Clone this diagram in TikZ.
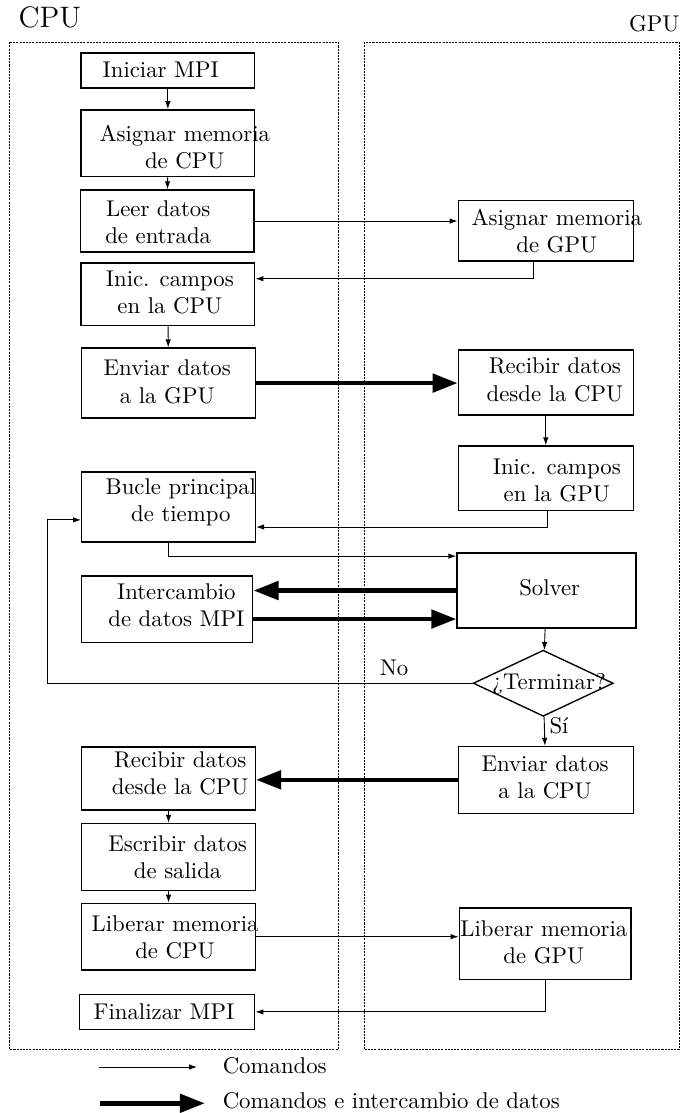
\documentclass[tikz,border=0pt]{standalone}
\usepackage{tikz}
\usetikzlibrary{arrows.meta,shapes.geometric}

\begin{document}
\begin{tikzpicture}[
    box/.style={draw, line width=0.6pt, minimum width=2.68cm, inner sep=0pt},
    txt/.style={align=center, inner sep=0pt},
    frame/.style={line width=0.5pt, dash pattern=on 0.9pt off 0.5pt},
    cmd/.style={line width=0.4pt, -{Latex[length=3.5pt,width=2.4pt]}},
    dat/.style={line width=2pt, -{Triangle[length=11pt,width=8pt]}}]
    \useasboundingbox (0,0) rectangle (10.54,-17.17);

    % the two frames
    \draw[frame] (0.15,-0.65) rectangle (5.22,-16.19);
    \draw[frame] (5.62,-0.65) rectangle (10.48,-16.19);
    \node[anchor=base west, inner sep=0pt, font=\fontsize{13}{16}\selectfont] (cpuT) at (0.28,-0.43) {CPU};
    \node[anchor=base east, inner sep=0pt] (gpuT) at (10.49,-0.49) {GPU};

    % CPU side boxes
    \node[box, minimum height=0.54cm] (iniM)  at (2.59,-1.09)  {};
    \node[box, minimum height=1.03cm] (asigC) at (2.59,-2.21)  {};
    \node[box, minimum height=0.96cm] (leer)  at (2.58,-3.41)  {};
    \node[box, minimum height=0.97cm] (iniC)  at (2.59,-4.54)  {};
    \node[box, minimum height=1.08cm] (envG)  at (2.60,-5.91)  {};
    \node[box, minimum height=1.08cm] (bucle) at (2.60,-7.82)  {};
    \node[box, minimum height=1.03cm, minimum width=2.64cm] (inter) at (2.58,-9.40) {};
    \node[box, minimum height=0.97cm] (recC)  at (2.60,-12.01) {};
    \node[box, minimum height=1.03cm] (escr)  at (2.60,-13.22) {};
    \node[box, minimum height=1.03cm] (libC)  at (2.60,-14.45) {};
    \node[box, minimum height=0.54cm, minimum width=2.70cm] (fin) at (2.58,-15.61) {};

    % GPU side boxes
    \node[box, minimum height=0.93cm, minimum width=2.70cm] (asigG) at (8.42,-3.56) {};
    \node[box, minimum height=1.00cm, minimum width=2.70cm] (recG)  at (8.42,-5.90) {};
    \node[box, minimum height=1.00cm, minimum width=2.70cm] (iniG)  at (8.42,-7.38) {};
    \node[box, minimum height=1.16cm, minimum width=2.76cm] (solver) at (8.43,-9.11) {};
    \node[draw, diamond, line width=0.6pt, inner sep=0pt,
          minimum width=2.16cm, minimum height=1.02cm] (term) at (8.38,-10.54) {};
    \node[box, minimum height=1.03cm, minimum width=2.70cm] (envC)  at (8.42,-12.03) {};
    \node[box, minimum height=1.10cm, minimum width=2.65cm] (libG)  at (8.41,-14.56) {};

    % box texts
    \node[txt] (iniMt)  at (2.48,-1.08)  {Iniciar MPI};
    \node[txt] (asigCt) at (2.85,-2.27)  {Asignar memoria\\de CPU};
    \node[txt] (leert)  at (2.44,-3.43)  {Leer datos\\de entrada};
    \node[txt] (iniCt)  at (2.62,-4.51)  {Inic. campos\\en la CPU};
    \node[txt] (envGt)  at (2.58,-5.89)  {Enviar datos\\a la GPU};
    \node[txt] (buclet) at (2.79,-7.75)  {Bucle principal\\de tiempo};
    \node[txt] (intert) at (2.72,-9.34)  {Intercambio\\de datos MPI};
    \node[txt] (recCt)  at (2.78,-11.93) {Recibir datos\\desde la CPU};
    \node[txt] (escrt)  at (2.74,-13.22) {Escribir datos\\de salida};
    \node[txt] (libCt)  at (2.70,-14.46) {Liberar memoria\\de CPU};
    \node[txt] (fint)   at (2.53,-15.60) {Finalizar MPI};
    \node[txt] (asigGt) at (8.59,-3.56)  {Asignar memoria\\de GPU};
    \node[txt] (recGt)  at (8.56,-5.86)  {Recibir datos\\desde la CPU};
    \node[txt] (iniGt)  at (8.59,-7.41)  {Inic. campos\\en la GPU};
    \node[txt] (solvert) at (8.48,-9.07) {Solver};
    \node[txt] (termt)  at (8.47,-10.55) {¿Terminar?};
    \node[txt] (envCt)  at (8.41,-11.99) {Enviar datos\\a la CPU};
    \node[txt] (libGt)  at (8.39,-14.54) {Liberar memoria\\de GPU};

    % commands
    \draw[cmd] (iniM) -- (asigC);
    \draw[cmd] (asigC) -- (leer);
    \draw[cmd] (leer.east) -- (leer.east -| asigG.west);
    \draw[cmd] ([xshift=-0.19cm]asigG.south) |- ([yshift=0.24cm]iniC.east);
    \draw[cmd] (iniC) -- (envG);
    \draw[cmd] (recG) -- (iniG);
    \draw[cmd] ([xshift=0.02cm]iniG.south) |- ([yshift=-0.31cm]bucle.east);
    \draw[cmd] (bucle.south) |- ([yshift=-0.06cm]solver.north west);
    \draw[cmd] (solver) -- (term);
    \coordinate (loopL) at (0.73,-8.02);
    \draw[cmd] (term.west) -| (loopL) -- (loopL -| bucle.west);
    \node[txt] (noT) at (6.08,-10.31) {No};
    \draw[cmd] (term) -- (envC);
    \node[anchor=base west, inner sep=0pt] (siT) at (8.47,-11.31) {Sí};
    \draw[cmd] (recC) -- (escr);
    \draw[cmd] (escr) -- (libC);
    \draw[cmd] (libC.east) -- (libC.east -| libG.west);
    \draw[cmd] (libG.south) |- (fin.east);

    % data exchange
    \draw[dat] (envG.east) -- (envG.east -| recG.west);
    \draw[dat] (solver.west) -- (solver.west -| inter.east);
    \draw[dat] ([yshift=-0.15cm]inter.east) -- ([yshift=-0.15cm]inter.east -| solver.west);
    \draw[dat] (envC.west) -- (envC.west -| recC.east);

    % legend
    \coordinate (legA) at (1.53,-16.46);
    \coordinate (legB) at (3.04,-16.46);
    \coordinate (legC) at (1.54,-17.02);
    \coordinate (legD) at (3.16,-17.02);
    \draw[cmd] (legA) -- (legB);
    \draw[dat] (legC) -- (legD);
    \node[anchor=base west, inner sep=0pt] (legT1) at (3.43,-16.56) {Comandos};
    \node[anchor=base west, inner sep=0pt] (legT2) at (3.43,-17.10) {Comandos e intercambio de datos};
\end{tikzpicture}
\end{document}
